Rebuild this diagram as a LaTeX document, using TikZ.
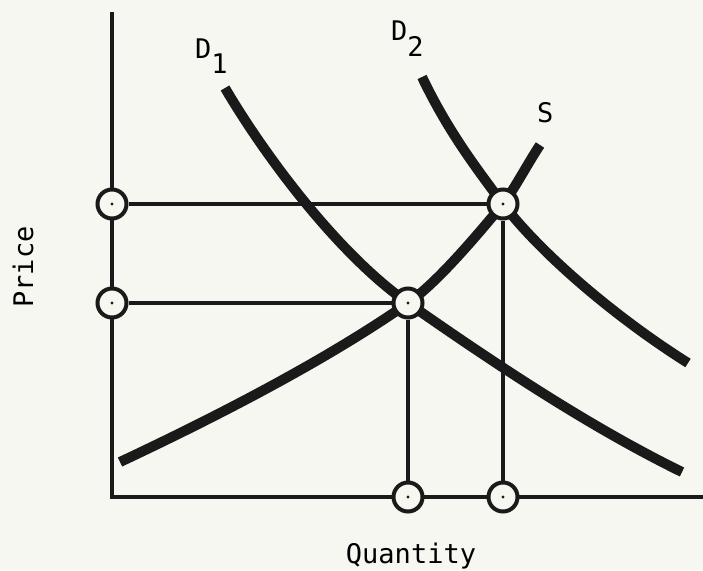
\documentclass[tikz,border=0pt]{standalone}
\usepackage{fontspec}
\newfontfamily\typefont{DejaVu Sans Mono}
\definecolor{paper}{RGB}{246,247,240}
\definecolor{ink}{RGB}{26,26,26}
\pgfdeclarelayer{bg}
\pgfsetlayers{bg,main}
\begin{document}
\begin{tikzpicture}[x=1pt,y=-1pt,font=\typefont\fontsize{27}{29}\selectfont,
    curve/.style={ink,line width=10pt},
    guide/.style={ink,line width=3.4pt},
    tick/.style={circle,draw=ink,line width=4pt,fill=paper,minimum size=29pt,inner sep=0pt}]
    \useasboundingbox (0,0) rectangle (703,570);
    % axes
    \coordinate (top) at (112,12);
    \coordinate (origin) at (112,497);
    \coordinate (right) at (703,497);
    % marked points
    \node[tick] (pHigh) at (112,204) {};
    \node[tick] (pLow) at (112,303) {};
    \node[tick] (eHigh) at (503,204) {};
    \node[tick] (eLow) at (408,303) {};
    \node[tick] (qLow) at (408,497) {};
    \node[tick] (qHigh) at (503,497) {};
    \foreach \n in {pHigh,pLow,eHigh,eLow,qLow,qHigh}
        \fill[ink] (\n) circle (1.6);
    \begin{pgfonlayer}{bg}
        \fill[paper] (0,0) rectangle (703,570);
        \draw[guide,line width=4pt] (top) -- (origin) -- (right);
        \draw[guide] (pHigh) -- (eHigh) -- (qHigh);
        \draw[guide] (pLow) -- (eLow) -- (qLow);
        % supply and demand
        \draw[curve] (120,462) .. controls (220,415) and (328,359) .. (eLow.center)
            .. controls (438,282) and (478,234) .. (eHigh.center)
            .. controls (515,188) and (528,163) .. (540,145);
        \draw[curve] (225,88) .. controls (265,156) and (338,254) .. (eLow.center)
            .. controls (498,366) and (592,428) .. (682,472);
        \draw[curve] (422,77) .. controls (447,129) and (473,164) .. (eHigh.center)
            .. controls (543,256) and (618,319) .. (688,363);
    \end{pgfonlayer}
    % labels
    \node[anchor=base west,inner sep=0pt] (dOne) at (195,58) {D\raisebox{-15pt}{1}};
    \node[anchor=base west,inner sep=0pt] (dTwo) at (391,40) {D\raisebox{-16pt}{2}};
    \node[anchor=base west,inner sep=0pt] (sup) at (537,122) {S};
    \node[rotate=90] (price) at (23,267) {Price};
    \node[anchor=base] (qty) at (411,563) {Quantity};
\end{tikzpicture}
\end{document}
